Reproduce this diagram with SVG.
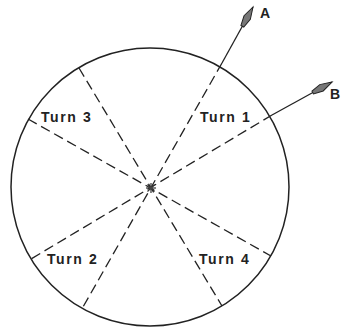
<svg xmlns="http://www.w3.org/2000/svg" width="341" height="327" viewBox="0 0 341 327">
<style>
.lbl{font-family:"Liberation Sans",Arial,sans-serif;font-weight:bold;font-size:14px;fill:#222;letter-spacing:1.6px}
.ltr{font-family:"Liberation Sans",Arial,sans-serif;font-weight:bold;font-size:14px;fill:#222}
.dash{stroke:#222;stroke-width:1.3;stroke-dasharray:10,5;fill:none}
.solid{stroke:#222;stroke-width:1.3;fill:none}
</style>
<defs>
<marker id="ah" markerUnits="userSpaceOnUse" markerWidth="26" markerHeight="12" viewBox="-24 -6 26 12" refX="0" refY="0" orient="auto">
<path d="M0,0 L-12,-3.6 L-22,-1.6 L-22,1.6 L-12,3.6 Z" fill="#777" stroke="#222" stroke-width="1"/>
</marker>
</defs>
<rect width="341" height="327" fill="#fff"/>
<g id="track">
<circle cx="150" cy="187" r="139" fill="none" stroke="#222" stroke-width="1.5"/>
</g>
<g id="connectors">
<line class="dash" x1="222" y1="63" x2="83" y2="307"/>
<line class="dash" x1="272" y1="115" x2="31" y2="259"/>
<line class="dash" x1="79" y1="68" x2="222" y2="306"/>
<line class="dash" x1="28" y1="119" x2="271" y2="256"/>
<line class="solid" x1="222" y1="63" x2="253" y2="7" marker-end="url(#ah)"/>
<line class="solid" x1="272" y1="115" x2="332" y2="82" marker-end="url(#ah)"/>
</g>
<g id="center">
<g stroke="#333" stroke-width="1.2">
<line x1="146" y1="188" x2="156" y2="188"/>
<line x1="151" y1="183" x2="151" y2="193"/>
<line x1="147.5" y1="184.5" x2="154.5" y2="191.5"/>
<line x1="147.5" y1="191.5" x2="154.5" y2="184.5"/>
</g>
<circle cx="151" cy="188" r="1.8" fill="#444"/>
</g>
<g id="turn1"><text class="lbl" x="200" y="122">Turn 1</text></g>
<g id="turn2"><text class="lbl" x="47" y="264">Turn 2</text></g>
<g id="turn3"><text class="lbl" x="41" y="122">Turn 3</text></g>
<g id="turn4"><text class="lbl" x="199" y="264">Turn 4</text></g>
<g id="labelA"><text class="ltr" x="260" y="18">A</text></g>
<g id="labelB"><text class="ltr" x="330" y="99">B</text></g>
</svg>
